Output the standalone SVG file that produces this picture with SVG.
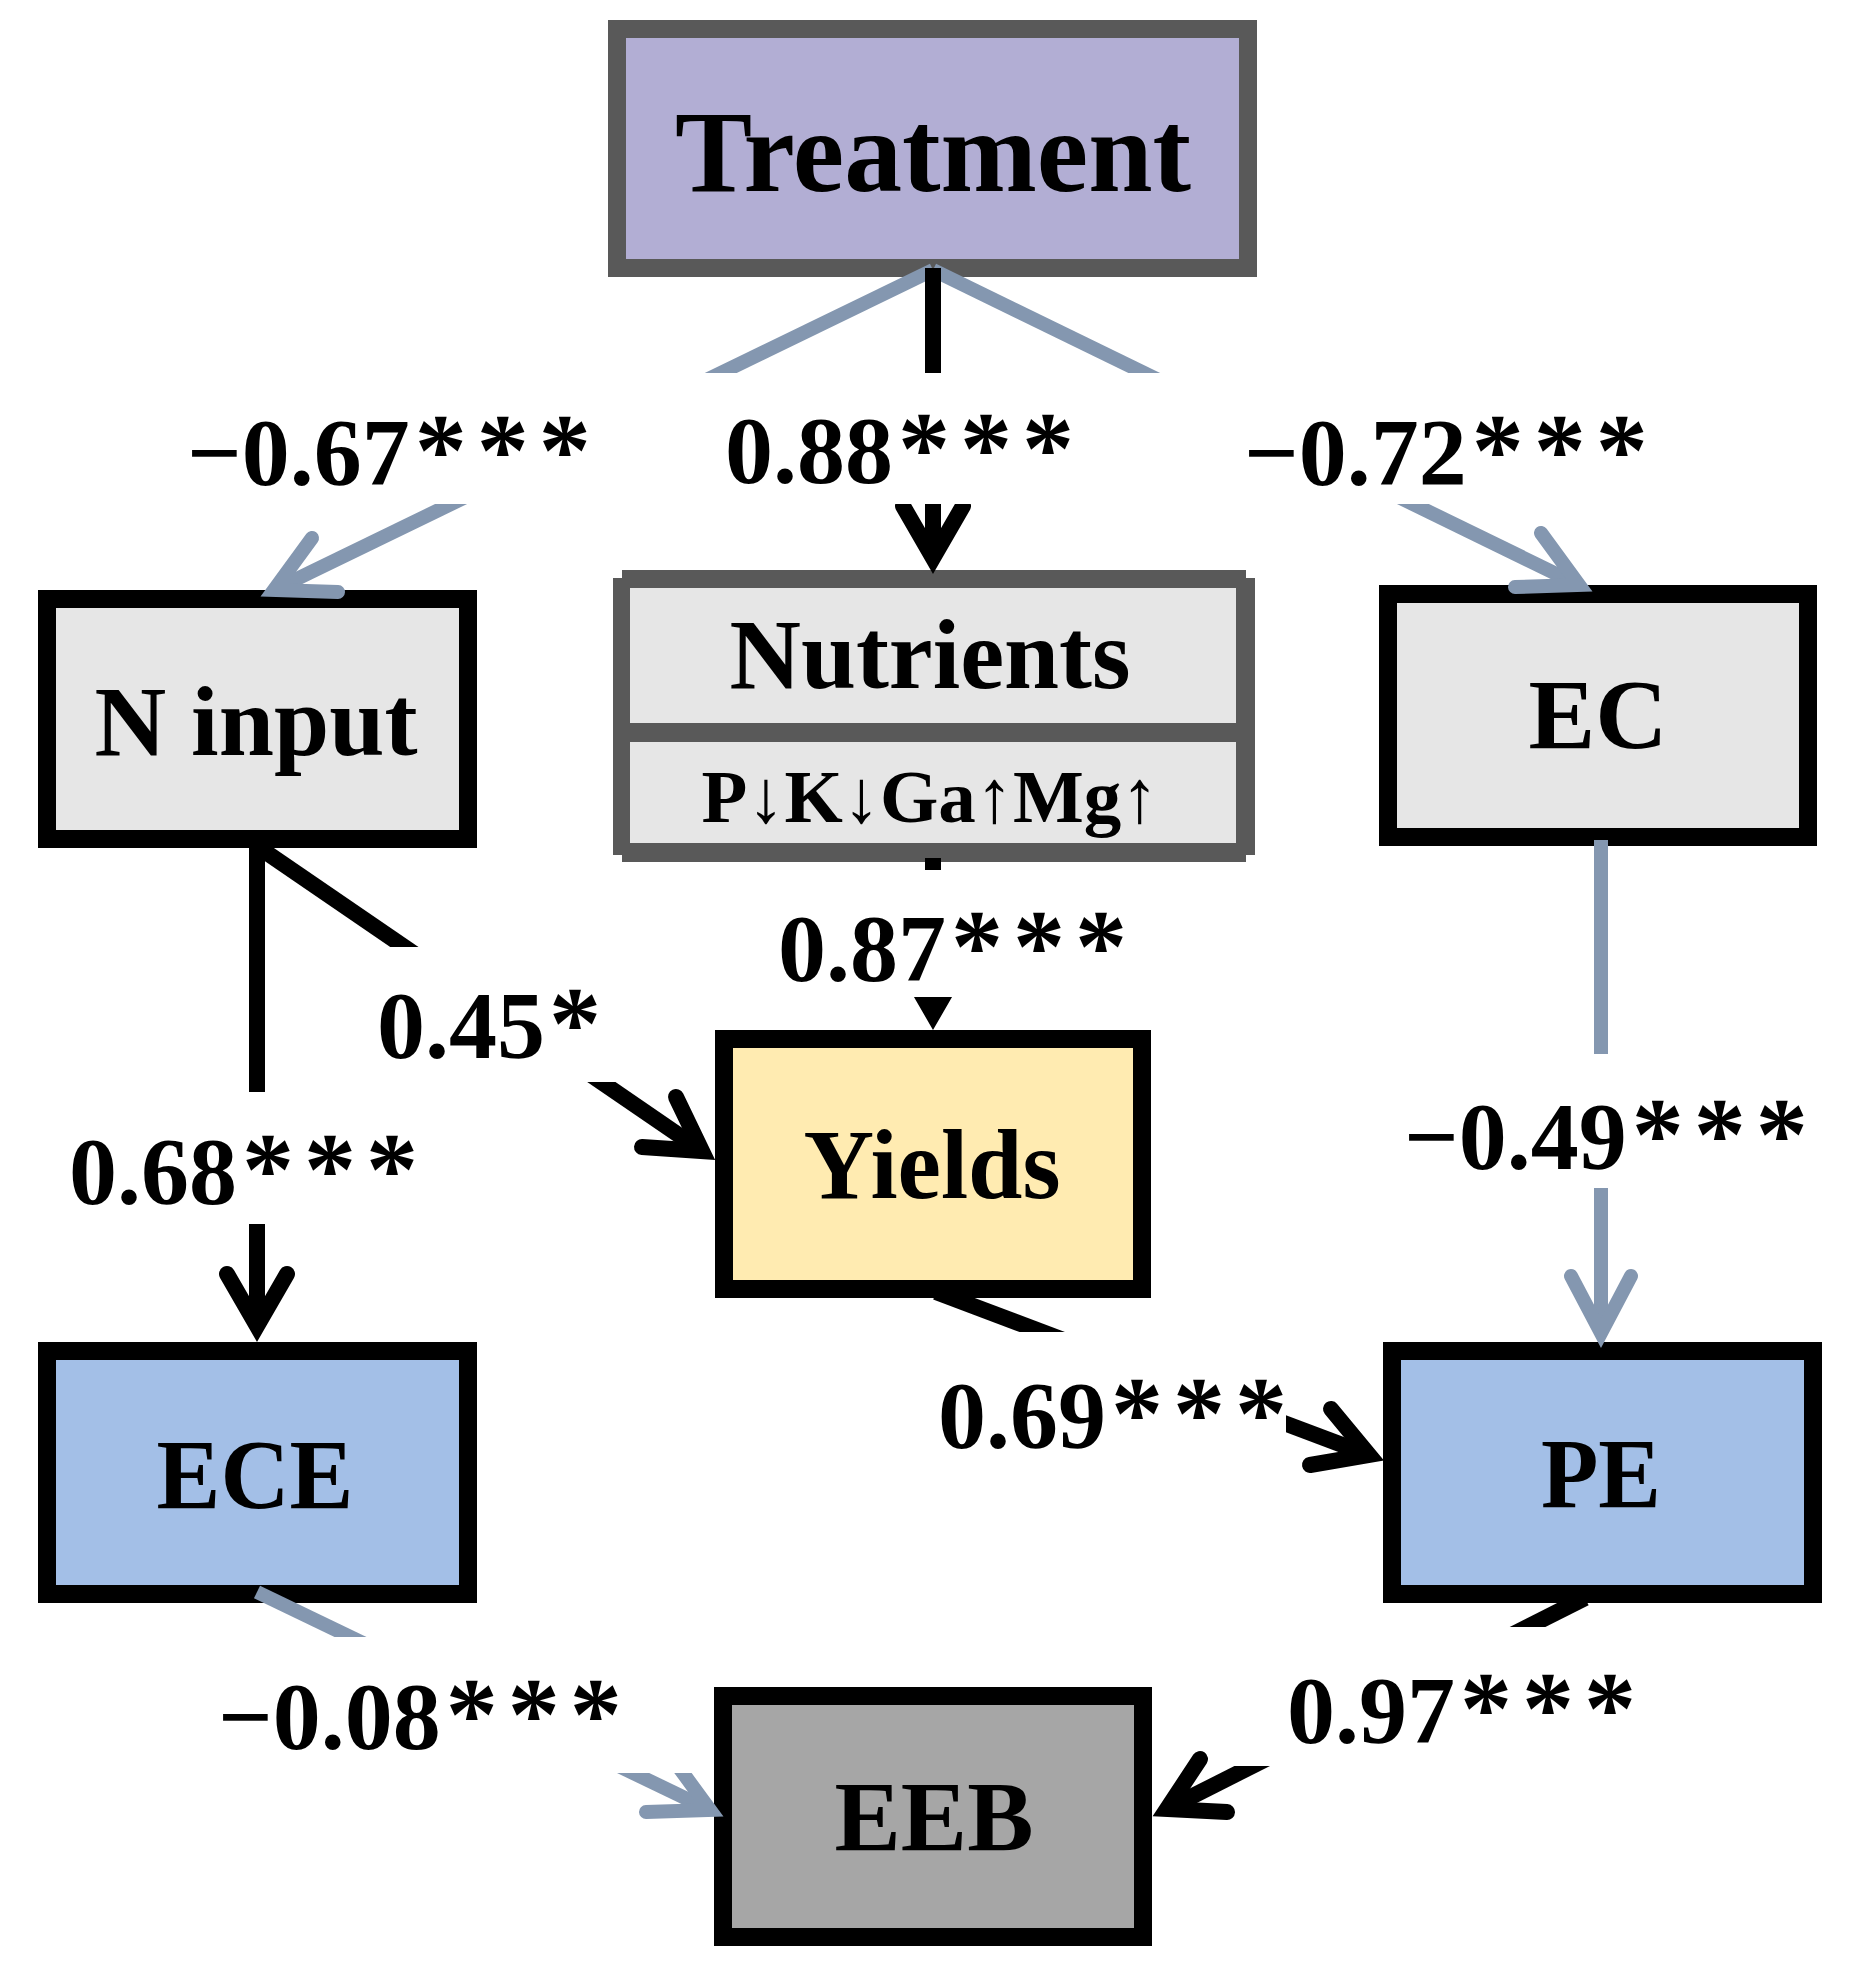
<svg xmlns="http://www.w3.org/2000/svg" width="1851" height="1977" viewBox="0 0 1851 1977">
<style>
.t{font-family:"Liberation Serif","Times New Roman",serif;font-weight:bold;fill:#000}
.node{font-size:100px;text-anchor:middle}
.lbl{font-size:96px}
.bk{stroke:#000;stroke-width:16;fill:none}
.gy{stroke:#8497b0;stroke-width:14;fill:none}
.head{stroke-linejoin:miter;stroke-linecap:round;stroke-miterlimit:10}
.box{stroke:#000;stroke-width:18}
.a{font-size:104px}
</style>
<defs>
<clipPath id="cTop"><rect x="0" y="0" width="1851" height="373"/><rect x="0" y="504" width="1851" height="1473"/></clipPath>
<clipPath id="cNY"><rect x="0" y="0" width="1851" height="870"/><rect x="0" y="997" width="1851" height="980"/></clipPath>
<clipPath id="cNE"><rect x="0" y="0" width="1851" height="1092"/><rect x="0" y="1224" width="1851" height="753"/></clipPath>
<clipPath id="cNYd"><rect x="0" y="0" width="1851" height="947"/><rect x="0" y="1082" width="1851" height="895"/></clipPath>
<clipPath id="cEP"><rect x="0" y="0" width="1851" height="1054"/><rect x="0" y="1188" width="1851" height="789"/></clipPath>
<clipPath id="cYP"><rect x="0" y="0" width="1851" height="1332"/><rect x="1286" y="1332" width="565" height="645"/></clipPath>
<clipPath id="cEE"><rect x="0" y="0" width="1851" height="1637"/><rect x="700" y="1637" width="1151" height="136"/><rect x="0" y="1773" width="1851" height="204"/></clipPath>
<clipPath id="cPE"><rect x="0" y="0" width="1851" height="1627"/><rect x="0" y="1627" width="1210" height="139"/><rect x="0" y="1766" width="1851" height="211"/></clipPath>
</defs>
<rect width="1851" height="1977" fill="#fff"/>

<g id="treatment">
<rect x="617" y="29" width="631" height="239" fill="#b2aed4" stroke="#595959" stroke-width="18"/>
<text class="t node" x="933" y="191" style="font-size:116px" textLength="516" lengthAdjust="spacingAndGlyphs">Treatment</text>
</g>

<g id="nutrients">
<rect x="613" y="578" width="642" height="277" fill="#595959"/>
<rect x="622" y="570" width="624" height="292" fill="#595959"/>
<rect x="630" y="588" width="606" height="135" fill="#e6e6e6"/>
<rect x="630" y="742" width="606" height="101" fill="#e6e6e6"/>
<text class="t node" x="930" y="688" textLength="401" lengthAdjust="spacingAndGlyphs">Nutrients</text>
<text class="t node" x="930" y="822" style="font-size:75px" textLength="457" lengthAdjust="spacing">P↓K↓Ga↑Mg↑</text>
</g>

<g id="ninput">
<rect class="box" x="47" y="599" width="421" height="240" fill="#e6e6e6"/>
<text class="t node" x="256" y="755" textLength="323" lengthAdjust="spacingAndGlyphs">N input</text>
</g>

<g id="ec">
<rect class="box" x="1388" y="594" width="420" height="243" fill="#e6e6e6"/>
<text class="t node" x="1598" y="748" textLength="139" lengthAdjust="spacingAndGlyphs">EC</text>
</g>

<g id="yields">
<rect class="box" x="724" y="1039" width="418" height="250" fill="#ffebb1"/>
<text class="t node" x="932" y="1198" textLength="257" lengthAdjust="spacingAndGlyphs">Yields</text>
</g>

<g id="ece">
<rect class="box" x="47" y="1351" width="421" height="243" fill="#a3bfe7"/>
<text class="t node" x="255" y="1508" textLength="197" lengthAdjust="spacingAndGlyphs">ECE</text>
</g>

<g id="pe">
<rect class="box" x="1392" y="1351" width="421" height="243" fill="#a3bfe7"/>
<text class="t node" x="1601" y="1507" textLength="120" lengthAdjust="spacingAndGlyphs">PE</text>
</g>

<g id="eeb">
<rect class="box" x="723" y="1696" width="420" height="241" fill="#a6a6a6"/>
<text class="t node" x="934" y="1850" textLength="199" lengthAdjust="spacingAndGlyphs">EEB</text>
</g>

<g id="connectors">
<g clip-path="url(#cTop)">
<line class="gy" x1="933" y1="270" x2="274" y2="590"/>
<polyline class="gy head" points="312,538 274,590 338,592"/>
<line class="gy" x1="933" y1="270" x2="1579" y2="585"/>
<polyline class="gy head" points="1515,587 1579,585 1541,533"/>
<line class="bk" x1="933" y1="268" x2="933" y2="558"/>
<polyline class="bk head" points="903,506 933,558 963,506"/>
</g>
<g clip-path="url(#cNY)">
<line class="bk" x1="933" y1="858" x2="933" y2="1014"/>
<polyline class="bk head" points="903,962 933,1014 963,962"/>
</g>
<g clip-path="url(#cNE)">
<line class="bk" x1="257" y1="846" x2="257" y2="1326"/>
<polyline class="bk head" points="227,1274 257,1326 287,1274"/>
</g>
<g clip-path="url(#cNYd)">
<line class="bk" x1="257" y1="846" x2="702" y2="1151"/>
<polyline class="bk head" points="642,1147 702,1151 676,1097"/>
</g>
<g clip-path="url(#cEP)">
<line class="gy" x1="1601" y1="840" x2="1601" y2="1333"/>
<polyline class="gy head" points="1571,1276 1601,1333 1631,1276"/>
</g>
<g clip-path="url(#cYP)">
<line class="bk" x1="936" y1="1292" x2="1369" y2="1455"/>
<polyline class="bk head" points="1310,1465 1369,1455 1331,1409"/>
</g>
<g clip-path="url(#cEE)">
<line class="gy" x1="257" y1="1592" x2="710" y2="1810"/>
<polyline class="gy head" points="646,1812 710,1810 672,1758"/>
</g>
<g clip-path="url(#cPE)">
<line class="bk" x1="1585" y1="1598" x2="1167" y2="1809"/>
<polyline class="bk head" points="1200,1759 1167,1809 1227,1812"/>
</g>
</g>

<g id="labels">
<text class="t lbl" x="187" y="485">−0.67<tspan class="a" dx="5">*</tspan><tspan class="a" dx="10">*</tspan><tspan class="a" dx="10">*</tspan></text>
<text class="t lbl" x="725" y="483">0.88<tspan class="a" dx="5">*</tspan><tspan class="a" dx="10">*</tspan><tspan class="a" dx="10">*</tspan></text>
<text class="t lbl" x="1244" y="485">−0.72<tspan class="a" dx="5">*</tspan><tspan class="a" dx="10">*</tspan><tspan class="a" dx="10">*</tspan></text>
<text class="t lbl" x="778" y="981">0.87<tspan class="a" dx="5">*</tspan><tspan class="a" dx="10">*</tspan><tspan class="a" dx="10">*</tspan></text>
<text class="t lbl" x="377" y="1058">0.45<tspan class="a" dx="4">*</tspan></text>
<text class="t lbl" x="69" y="1204">0.68<tspan class="a" dx="5">*</tspan><tspan class="a" dx="10">*</tspan><tspan class="a" dx="10">*</tspan></text>
<text class="t lbl" x="1404" y="1169">−0.49<tspan class="a" dx="5">*</tspan><tspan class="a" dx="10">*</tspan><tspan class="a" dx="10">*</tspan></text>
<text class="t lbl" x="938" y="1448">0.69<tspan class="a" dx="5">*</tspan><tspan class="a" dx="10">*</tspan><tspan class="a" dx="10">*</tspan></text>
<text class="t lbl" x="218" y="1749">−0.08<tspan class="a" dx="5">*</tspan><tspan class="a" dx="10">*</tspan><tspan class="a" dx="10">*</tspan></text>
<text class="t lbl" x="1287" y="1743">0.97<tspan class="a" dx="5">*</tspan><tspan class="a" dx="10">*</tspan><tspan class="a" dx="10">*</tspan></text>
</g>
</svg>
